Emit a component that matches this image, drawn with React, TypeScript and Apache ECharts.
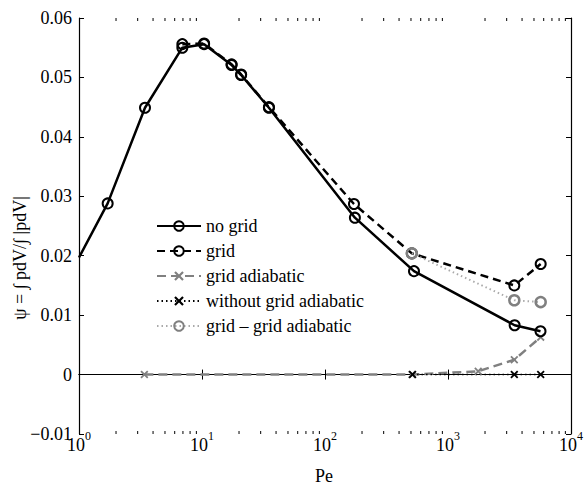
import React, { useEffect, useRef } from "react";
import * as echarts from "echarts";

const FONT = "Liberation Serif";

// Data
const peNoGrid = [1, 1.71, 3.44, 6.92, 10.4, 17.4, 20.8, 35, 175, 529, 3480, 5650];
const psiNoGrid = [0.0197, 0.0288, 0.0449, 0.055, 0.0556, 0.0521, 0.0504, 0.0449, 0.0264, 0.0174, 0.0083, 0.0073];

const peGrid = [6.92, 10.4, 17.4, 20.8, 35, 172, 508, 3460, 5670];
const psiGrid = [0.0556, 0.0557, 0.0522, 0.0505, 0.045, 0.0287, 0.0204, 0.015, 0.0186];

const peGridAdiabatic = [3.4, 510, 1760, 3460, 5670];
const psiGridAdiabatic = [0, 0, 0.00055, 0.0025, 0.0063];

const peNoGridAdiabatic = [515, 3460, 5670];
const psiNoGridAdiabatic = [0, 0, 0];

const peGridMinusAdiabatic = [508, 3460, 5670];
const psiGridMinusAdiabatic = [0.0204, 0.0125, 0.0122];

const seriesNames = [
  "no grid",
  "grid",
  "grid adiabatic",
  "without grid adiabatic",
  "grid \u2013 grid adiabatic",
];

const xTitle = "Pe";
const yTitle = "\u03c8 = \u222b pdV/\u222b |pdV|";

const yTicks = [-0.01, 0, 0.01, 0.02, 0.03, 0.04, 0.05, 0.06];
const xMinorTicks = [
  2, 3, 4, 5, 6, 7, 8, 9,
  20, 30, 40, 50, 60, 70, 80, 90,
  200, 300, 400, 500, 600, 700, 800, 900,
  2000, 3000, 4000, 5000, 6000, 7000, 8000, 9000,
];

const GRAY = "#808080";
const X_PATH =
  "path://M0,1.6 L1.6,0 L5,3.4 L8.4,0 L10,1.6 L6.6,5 L10,8.4 L8.4,10 L5,6.6 L1.6,10 L0,8.4 L3.4,5 Z";

const zip = (xs: number[], ys: number[]) => xs.map((x, i) => [x, ys[i]]);

export default function App() {
  const ref = useRef<HTMLDivElement>(null);
  useEffect(() => {
    if (!ref.current) return;
    const chart = echarts.init(ref.current, undefined, { renderer: "svg" });

    const axisLine = { show: true, lineStyle: { color: "#000", width: 1.2 } };
    const tickStyle = { color: "#000", width: 1 };

    const option: any = {
      animation: false,
      backgroundColor: "#fff",
      textStyle: { fontFamily: FONT },
      grid: { left: 79, right: 15, top: 18, bottom: 52, containLabel: false },
      graphic: [
        {
          type: "text",
          x: 324,
          y: 476,
          style: {
            text: xTitle,
            fontFamily: FONT,
            fontSize: 18,
            fill: "#000",
            align: "center",
            verticalAlign: "middle",
          },
        },
        {
          type: "text",
          x: 20,
          y: 258,
          rotation: Math.PI / 2,
          style: {
            text: yTitle,
            fontFamily: FONT,
            fontSize: 18,
            fill: "#000",
            align: "center",
            verticalAlign: "middle",
          },
        },
      ],
      legend: {
        data: seriesNames,
        orient: "vertical",
        left: 151,
        top: 212,
        itemWidth: 44,
        itemHeight: 12,
        itemGap: 7,
        textStyle: { fontFamily: FONT, fontSize: 18, color: "#000" },
      },
      xAxis: [
        {
          type: "log",
          logBase: 10,
          min: 1,
          max: 10000,
          position: "bottom",
          axisLine,
          axisTick: { show: true, inside: true, length: 5, lineStyle: tickStyle },
          splitLine: { show: false },
          axisLabel: {
            margin: -4,
            formatter: (v: number) => `{b|10}{s|${Math.round(Math.log10(v))}}`,
            rich: {
              b: { fontFamily: FONT, fontSize: 18, color: "#000", verticalAlign: "bottom", padding: [6, 0, 0, 0] },
              s: { fontFamily: FONT, fontSize: 12, color: "#000", verticalAlign: "top" },
            },
          },
        },
        {
          type: "log",
          logBase: 10,
          min: 1,
          max: 10000,
          position: "top",
          axisLine,
          axisTick: { show: true, inside: true, length: 5, lineStyle: tickStyle },
          axisLabel: { show: false },
          splitLine: { show: false },
        },
      ],
      yAxis: [
        {
          type: "value",
          min: -0.01,
          max: 0.06,
          interval: 0.01,
          position: "left",
          axisLine,
          axisTick: { show: true, inside: true, length: 5, lineStyle: tickStyle },
          splitLine: { show: false },
          axisLabel: {
            margin: 7,
            fontFamily: FONT,
            fontSize: 18,
            color: "#000",
            formatter: (v: number) => {
              const t = yTicks.find((y) => Math.abs(y - v) < 1e-9);
              const val = t === undefined ? v : t;
              if (Math.abs(val) < 1e-12) return "0";
              const s = Math.abs(val).toFixed(2);
              return val < 0 ? "\u2212" + s : s;
            },
          },
        },
        {
          type: "value",
          min: -0.01,
          max: 0.06,
          interval: 0.01,
          position: "right",
          axisLine,
          axisTick: { show: true, inside: true, length: 5, lineStyle: tickStyle },
          axisLabel: { show: false },
          splitLine: { show: false },
        },
      ],
      series: [
        {
          type: "custom",
          silent: true,
          xAxisIndex: 0,
          yAxisIndex: 0,
          data: xMinorTicks.map((v) => [v, 0]),
          encode: { x: 0, y: 1 },
          clip: false,
          renderItem: (params: any, api: any) => {
            const x = api.coord([api.value(0), 0])[0];
            const cs = params.coordSys;
            const yb = cs.y + cs.height;
            const yt = cs.y;
            return {
              type: "group",
              children: [
                { type: "line", shape: { x1: x, y1: yb, x2: x, y2: yb - 3 }, style: { stroke: "#000", lineWidth: 1 } },
                { type: "line", shape: { x1: x, y1: yt, x2: x, y2: yt + 3 }, style: { stroke: "#000", lineWidth: 1 } },
              ],
            };
          },
        },
        {
          name: seriesNames[2],
          type: "line",
          data: zip(peGridAdiabatic, psiGridAdiabatic),
          symbol: X_PATH,
          symbolSize: 8,
          lineStyle: { color: GRAY, width: 2.5, type: [9, 5] },
          itemStyle: { color: GRAY },
        },
        {
          name: seriesNames[3],
          type: "line",
          data: zip(peNoGridAdiabatic, psiNoGridAdiabatic),
          symbol: X_PATH,
          symbolSize: 8,
          lineStyle: { color: "#000", width: 1.5, type: [1.5, 3] },
          itemStyle: { color: "#000" },
        },
        {
          name: seriesNames[0],
          type: "line",
          data: zip(peNoGrid, psiNoGrid).map((d, i) =>
            i === 0 ? { value: d, symbol: "none" } : d
          ),
          symbol: "circle",
          symbolSize: 10,
          lineStyle: { color: "#000", width: 2.5, type: "solid" },
          itemStyle: { color: "rgba(0,0,0,0)", borderColor: "#000", borderWidth: 2 },
        },
        {
          name: seriesNames[1],
          type: "line",
          data: zip(peGrid, psiGrid),
          symbol: "circle",
          symbolSize: 10,
          lineStyle: { color: "#000", width: 2.5, type: [8, 5] },
          itemStyle: { color: "rgba(0,0,0,0)", borderColor: "#000", borderWidth: 2 },
        },
        {
          name: seriesNames[4],
          type: "line",
          data: zip(peGridMinusAdiabatic, psiGridMinusAdiabatic),
          symbol: "circle",
          symbolSize: 10,
          lineStyle: { color: "#aaaaaa", width: 2, type: [1.5, 3] },
          itemStyle: { color: "rgba(0,0,0,0)", borderColor: GRAY, borderWidth: 2.5 },
        },
      ],
    };
    chart.setOption(option);
    return () => chart.dispose();
  }, []);

  return <div ref={ref} style={{ width: 586, height: 486, position: "absolute", left: 0, top: 0 }} />;
}
